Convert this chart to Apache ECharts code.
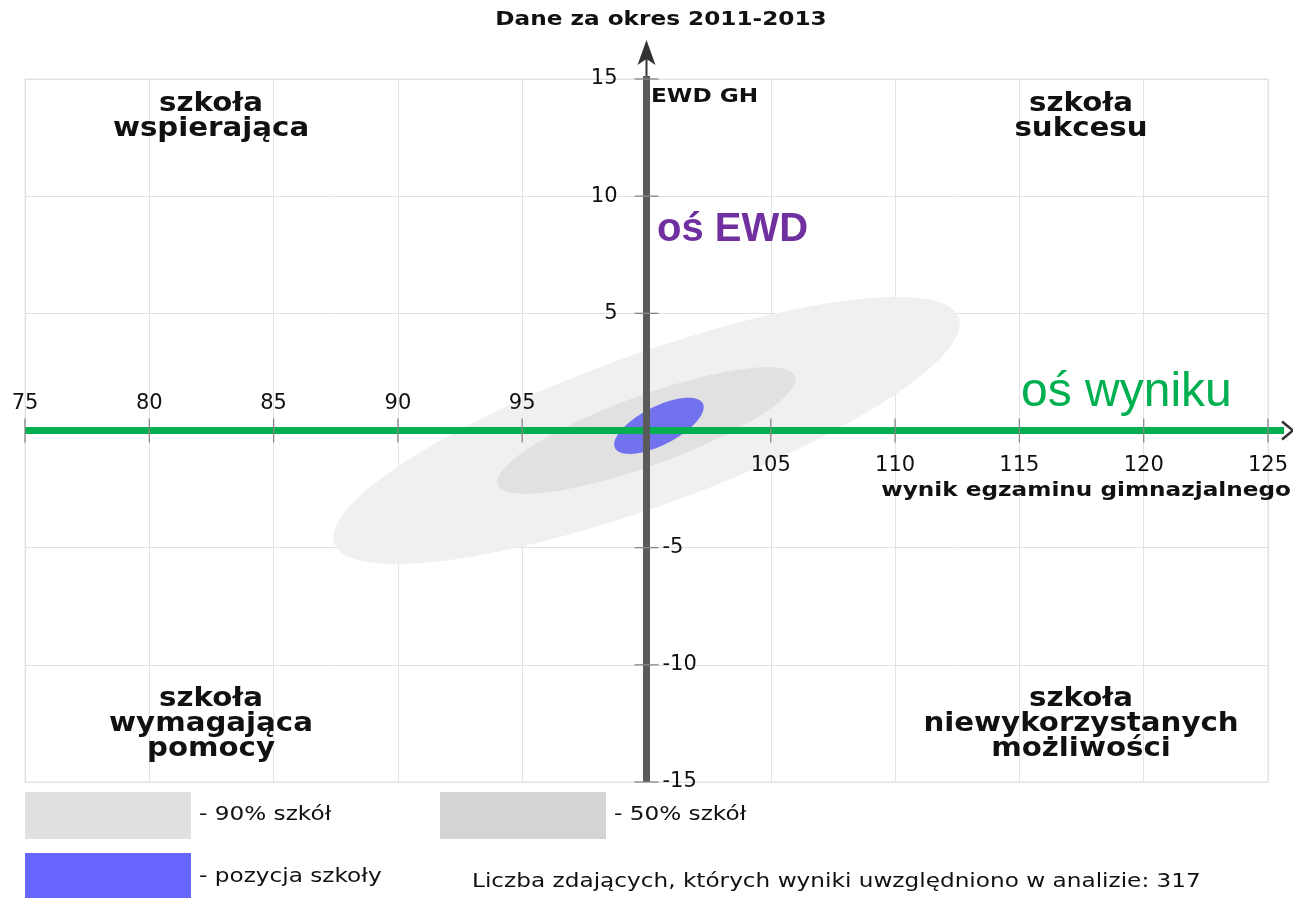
<!DOCTYPE html>
<html>
<head>
<meta charset="utf-8">
<script src="https://cdn.jsdelivr.net/npm/echarts@6/dist/echarts.min.js"></script>
<style>html,body{margin:0;padding:0;background:#fff;}#c{width:1293px;height:898px;}</style>
</head>
<body>
<div id="c"></div>
<script>
// ---- data ----
const xTicks = [75, 80, 85, 90, 95, 100, 105, 110, 115, 120, 125];
const xTickLabels = ['75', '80', '85', '90', '95', '', '105', '110', '115', '120', '125'];
const yTicks = [-15, -10, -5, 0, 5, 10, 15];
const yTickLabels = ['-15', '-10', '-5', '', '5', '10', '15'];

const ellipseNames = ['90% szkół', '50% szkół', 'pozycja szkoły'];
const ellipseCenterX = [100, 100, 100.5];
const ellipseCenterY = [0, 0, 0.2];
const ellipseHalfWidth = [12.6, 6.0, 1.8];
const ellipseHalfHeight = [5.7, 2.7, 1.2];
const ellipseCorrelation = [0.80, 0.81, 0.66];
const ellipseColors = ['#f0f0f0', '#e1e1e1', '#7272ee'];

const legendColors = ['#e0e0e0', '#d4d4d4', '#6666ff'];
const FONT = "'DejaVu Sans', sans-serif";
const STRETCH = 1.22;
const QUAD_STRETCH = 1.125;

const chart = echarts.init(document.getElementById('c'), null, {renderer: 'canvas'});

function txt(text, x, y, size, weight, color, align, valign, family, scaleX, lineHeight) {
  const st = {
    text: text, fill: color || '#111',
    font: (weight || 'normal') + ' ' + size + 'px ' + (family || FONT),
    align: align || 'left', verticalAlign: valign || 'middle',
    textAlign: align || 'left', textVerticalAlign: valign || 'middle'
  };
  if (lineHeight) st.lineHeight = lineHeight;
  return {type: 'text', x: x, y: y, z: 100, scaleX: scaleX || 1, style: st};
}

const option = {
  backgroundColor: '#fff',
  animation: false,
  grid: {left: 25, right: 25, top: 79, bottom: 116, show: true, borderColor: '#e2e2e2', borderWidth: 1, backgroundColor: 'transparent'},
  xAxis: {
    type: 'value', min: 75, max: 125, interval: 5,
    axisLine: {show: false}, axisTick: {show: false}, axisLabel: {show: false},
    splitLine: {show: true, lineStyle: {color: '#e2e2e2', width: 1}}
  },
  yAxis: {
    type: 'value', min: -15, max: 15, interval: 5,
    axisLine: {show: false}, axisTick: {show: false}, axisLabel: {show: false},
    splitLine: {show: true, lineStyle: {color: '#e2e2e2', width: 1}}
  },
  series: [
    {
      type: 'custom',
      name: 'ellipses',
      clip: false,
      z: 2,
      data: ellipseNames.map((n, i) => [ellipseCenterX[i], ellipseCenterY[i], ellipseHalfWidth[i], ellipseHalfHeight[i], ellipseCorrelation[i]]),
      encode: {x: 0, y: 1},
      renderItem: function (params, api) {
        const cx = api.value(0), cy = api.value(1), rx = api.value(2), ry = api.value(3), rho = api.value(4);
        const phi = Math.acos(rho);
        const pts = [];
        for (let k = 0; k < 120; k++) {
          const t = k / 120 * Math.PI * 2;
          pts.push(api.coord([cx + rx * Math.cos(t), cy + ry * Math.cos(t - phi)]));
        }
        return {type: 'polygon', shape: {points: pts}, style: {fill: ellipseColors[params.dataIndex], stroke: null}};
      }
    },
    {
      type: 'custom',
      name: 'axes',
      clip: false,
      z: 5,
      data: [[100, 0]],
      encode: {x: 0, y: 1},
      renderItem: function (params, api) {
        const ox = api.value(0), oy = api.value(1);
        const left = api.coord([xTicks[0], oy]);
        const right = api.coord([xTicks[xTicks.length - 1], oy]);
        const bottom = api.coord([ox, yTicks[0]]);
        const top = api.coord([ox, yTicks[yTicks.length - 1]]);
        const ch = [];
        ch.push({type: 'line', shape: {x1: left[0], y1: left[1], x2: right[0] + 16, y2: right[1]}, style: {stroke: '#00b050', lineWidth: 7}});
        ch.push({type: 'polyline', shape: {points: [[right[0] + 14, right[1] - 9], [right[0] + 25, right[1]], [right[0] + 14, right[1] + 9]]}, style: {stroke: '#333', lineWidth: 2.5, fill: null}});
        ch.push({type: 'line', shape: {x1: top[0], y1: top[1], x2: top[0], y2: top[1] - 30}, style: {stroke: '#333', lineWidth: 2}});
        ch.push({type: 'polygon', shape: {points: [[top[0], top[1] - 39], [top[0] - 9, top[1] - 14], [top[0], top[1] - 20], [top[0] + 9, top[1] - 14]]}, style: {fill: '#333'}});
        ch.push({type: 'line', shape: {x1: top[0], y1: top[1] - 3, x2: bottom[0], y2: bottom[1]}, style: {stroke: '#5a5a5a', lineWidth: 7}});
        xTicks.forEach((v, i) => {
          const p = api.coord([v, oy]);
          if (xTickLabels[i] !== '') {
            ch.push({type: 'line', shape: {x1: p[0], y1: p[1] - 12, x2: p[0], y2: p[1] + 12}, style: {stroke: '#888', lineWidth: 1.3}});
            const above = v < ox;
            ch.push(txt(xTickLabels[i], p[0], above ? p[1] - 27 : p[1] + 35, 21, 'normal', '#111', 'center', 'middle'));
          }
        });
        yTicks.forEach((v, i) => {
          const p = api.coord([ox, v]);
          if (yTickLabels[i] !== '') {
            ch.push({type: 'line', shape: {x1: p[0] - 12, y1: p[1], x2: p[0] + 12, y2: p[1]}, style: {stroke: '#888', lineWidth: 1.3}});
            if (v > oy) ch.push(txt(yTickLabels[i], p[0] - 29, p[1], 21, 'normal', '#111', 'right', 'middle'));
            else ch.push(txt(yTickLabels[i], p[0] + 16, p[1], 21, 'normal', '#111', 'left', 'middle'));
          }
        });
        return {type: 'group', children: ch};
      }
    }
  ],
  graphic: [
    txt('Dane za okres 2011-2013', 661, 20, 19, 'bold', '#111', 'center', 'middle', null, STRETCH),
    txt('EWD GH', 651, 97, 19, 'bold', '#111', 'left', 'middle', null, STRETCH),
    txt('wynik egzaminu gimnazjalnego', 1291, 491, 19, 'bold', '#111', 'right', 'middle', null, STRETCH),
    txt('oś EWD', 657, 230, 40, 'bold', '#7030a0', 'left', 'middle', "'Liberation Sans', Arial, sans-serif"),
    txt('oś wyniku', 1021, 393, 48, 'normal', '#00b050', 'left', 'middle', "'Liberation Sans', Arial, sans-serif"),
    txt('szkoła\nwspierająca', 211, 117, 26, 'bold', '#111', 'center', 'middle', null, QUAD_STRETCH, 25),
    txt('szkoła\nsukcesu', 1081, 117, 26, 'bold', '#111', 'center', 'middle', null, QUAD_STRETCH, 25),
    txt('szkoła\nwymagająca\npomocy', 211, 724, 26, 'bold', '#111', 'center', 'middle', null, QUAD_STRETCH, 25),
    txt('szkoła\nniewykorzystanych\nmożliwości', 1081, 724, 26, 'bold', '#111', 'center', 'middle', null, QUAD_STRETCH, 25),
    {type: 'rect', shape: {x: 25, y: 792, width: 166, height: 47}, style: {fill: legendColors[0]}},
    {type: 'rect', shape: {x: 440, y: 792, width: 166, height: 47}, style: {fill: legendColors[1]}},
    {type: 'rect', shape: {x: 25, y: 853, width: 166, height: 45}, style: {fill: legendColors[2]}},
    txt('- ' + ellipseNames[0], 199, 815, 19, 'normal', '#111', 'left', 'middle', null, STRETCH),
    txt('- ' + ellipseNames[1], 614, 815, 19, 'normal', '#111', 'left', 'middle', null, STRETCH),
    txt('- ' + ellipseNames[2], 199, 877, 19, 'normal', '#111', 'left', 'middle', null, STRETCH),
    txt('Liczba zdających, których wyniki uwzględniono w analizie: 317', 472, 882, 19, 'normal', '#111', 'left', 'middle', null, STRETCH)
  ]
};
chart.setOption(option);
</script>
</body>
</html>
